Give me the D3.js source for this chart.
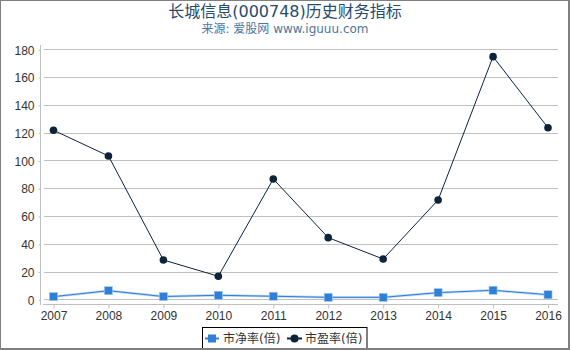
<!DOCTYPE html>
<html>
<head>
<meta charset="utf-8">
<script src="https://cdn.jsdelivr.net/npm/d3@7"></script>
<style>
body { margin: 0; background: #fff; }
svg { display: block; font-family: "DejaVu Sans", "Noto Sans CJK SC", sans-serif; }
.axis text { font-size: 12px; fill: #333; }
</style>
</head>
<body>
<div class="chart"></div>
<script>
const years = ['2007','2008','2009','2010','2011','2012','2013','2014','2015','2016']
const pb = [1.9, 6.2, 2.0, 2.9, 2.2, 1.4, 1.4, 4.8, 6.5, 3.3]
const pe = [121.7, 103.2, 28.3, 16.6, 86.6, 44.4, 29.0, 71.5, 174.7, 123.5]
const yTicks = [0, 20, 40, 60, 80, 100, 120, 140, 160, 180]

const width = 570, height = 350

const svg = d3.select('.chart').append('svg')
.attr('width', width)
.attr('height', height)

svg.append('rect')
.attr('x', 0).attr('y', 0)
.attr('width', 569).attr('height', 349)
.attr('fill', '#fff')
.attr('stroke', '#7f7f7f')
.attr('stroke-width', 2)

// title
svg.append('text')
.attr('x', 285).attr('y', 17)
.attr('text-anchor', 'middle')
.style('font-size', '16px')
.attr('fill', '#274b6d')
.text('长城信息(000748)历史财务指标')

svg.append('text')
.attr('x', 285).attr('y', 33)
.attr('text-anchor', 'middle')
.style('font-size', '12px')
.attr('fill', '#4d759e')
.text('来源: 爱股网 www.iguuu.com')

const x = d3.scalePoint()
.domain(years)
.range([53.5, 548])

const y = d3.scaleLinear()
.domain([0, 180])
.range([299.3, 49.3])

// gridlines
svg.append('g')
.selectAll('line')
.data(yTicks)
.enter()
.append('line')
.attr('x1', 44).attr('x2', 558)
.attr('y1', d => Math.round(y(d)) + 0.5)
.attr('y2', d => Math.round(y(d)) + 0.5)
.attr('stroke', '#c0c0c0')
.attr('stroke-width', 1)

// y axis line
svg.append('line')
.attr('x1', 40.5).attr('x2', 40.5)
.attr('y1', 45).attr('y2', 305)
.attr('stroke', '#c0c0c0')

const yAxis = svg.append('g')
.attr('class', 'axis')
.attr('transform', 'translate(40.5,0.5)')
.call(d3.axisLeft(y).tickValues(yTicks).tickSize(2).tickPadding(4))

yAxis.select('.domain').remove()
yAxis.selectAll('line').attr('stroke', '#c0c0c0')
yAxis.selectAll('text').attr('dy', '0.35em')

const xAxis = svg.append('g')
.attr('class', 'axis')
.attr('transform', 'translate(0,304.5)')
.call(d3.axisBottom(x).tickSize(4).tickPadding(3))

xAxis.select('.domain')
.attr('d', 'M43,0H558')
.attr('stroke', '#c0c0c0')
xAxis.selectAll('line').attr('stroke', '#c0c0c0')
xAxis.selectAll('text').style('font-size', '12px')

const line = d3.line()
.x((d, i) => x(years[i]))
.y(d => y(d))

// PB series
svg.append('path')
.datum(pb)
.attr('d', line)
.attr('fill', 'none')
.attr('stroke', '#bcd6f5')
.attr('stroke-width', 2.5)

svg.append('path')
.datum(pb)
.attr('d', line)
.attr('fill', 'none')
.attr('stroke', '#2f7ed8')
.attr('stroke-width', 1)

svg.append('g')
.selectAll('rect')
.data(pb)
.enter()
.append('rect')
.attr('x', (d, i) => x(years[i]) - 4)
.attr('y', d => y(d) - 4)
.attr('width', 8).attr('height', 8)
.attr('fill', '#2f7ed8')
.attr('stroke', '#9cc3ee')
.attr('stroke-width', 0.6)

// PE series
svg.append('path')
.datum(pe)
.attr('d', line)
.attr('fill', 'none')
.attr('stroke', '#0d233a')
.attr('stroke-width', 1)

svg.append('g')
.selectAll('circle')
.data(pe)
.enter()
.append('circle')
.attr('cx', (d, i) => x(years[i]))
.attr('cy', d => y(d))
.attr('r', 3.8)
.attr('fill', '#0d233a')

// legend
const legend = svg.append('g')

legend.append('rect')
.attr('x', 202.5).attr('y', 327.5)
.attr('width', 164.5).attr('height', 26)
.attr('fill', '#fff')
.attr('stroke', '#000')
.attr('stroke-width', 1)

legend.append('line')
.attr('x1', 205).attr('x2', 219)
.attr('y1', 338.5).attr('y2', 338.5)
.attr('stroke', '#2f7ed8').attr('stroke-width', 2)

legend.append('rect')
.attr('x', 208).attr('y', 334.5)
.attr('width', 8).attr('height', 8)
.attr('fill', '#2f7ed8')

legend.append('text')
.attr('x', 223).attr('y', 343)
.style('font-size', '12px')
.attr('fill', '#333')
.text('市净率(倍)')

legend.append('line')
.attr('x1', 287).attr('x2', 302)
.attr('y1', 338.5).attr('y2', 338.5)
.attr('stroke', '#0d233a').attr('stroke-width', 2)

legend.append('circle')
.attr('cx', 294.5).attr('cy', 338.5)
.attr('r', 4)
.attr('fill', '#0d233a')

legend.append('text')
.attr('x', 305).attr('y', 343)
.style('font-size', '12px')
.attr('fill', '#333')
.text('市盈率(倍)')

// bottom frame drawn again over legend
svg.append('line')
.attr('x1', 0).attr('x2', 570)
.attr('y1', 349).attr('y2', 349)
.attr('stroke', '#7f7f7f').attr('stroke-width', 2)
</script>
</body>
</html>
